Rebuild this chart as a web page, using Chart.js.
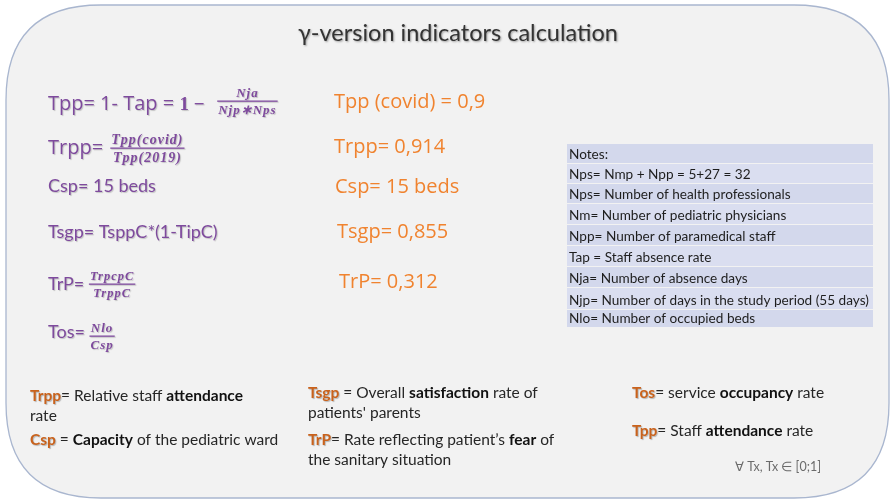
<!DOCTYPE html>
<html>
<head>
<meta charset="utf-8">
<script src="https://cdn.jsdelivr.net/npm/chart.js@4"></script>
<style>
  html, body { margin: 0; padding: 0; background: #ffffff; }
  #wrap { width: 891px; height: 501px; position: relative; }
</style>
</head>
<body>
<div id="wrap"><canvas id="slideChart" width="891" height="501"></canvas></div>
<script>
// indicator results (orange column)
const indicatorNames = ['Tpp (covid)', 'Trpp', 'Csp', 'Tsgp', 'TrP'];
const indicatorValues = [0.9, 0.914, 15, 0.855, 0.312];
const indicatorUnits = ['', '', ' beds', '', ''];

// notes table
const noteLines = [
    'Notes:',
    'Nps= Nmp + Npp = 5+27 = 32',
    'Nps= Number of health professionals',
    'Nm= Number of pediatric physicians',
    'Npp= Number of paramedical staff',
    'Tap = Staff absence rate',
    'Nja= Number of absence days',
    'Njp= Number of days in the study period (55 days)',
    'Nlo= Number of occupied beds'
];

// definitions at the bottom: [abbr, text before bold, bold word, text after, 2nd line]
const definitions = [
    ['Trpp', '= Relative staff ', 'attendance', '', 'rate'],
    ['Csp', ' = ', 'Capacity', ' of the pediatric ward', ''],
    ['Tsgp', ' = Overall ', 'satisfaction', ' rate of', "patients' parents"],
    ['TrP', '= Rate reflecting patient\u2019s ', 'fear', ' of', 'the sanitary situation'],
    ['Tos', '= service ', 'occupancy', ' rate', ''],
    ['Tpp', '= Staff ', 'attendance', ' rate', '']
];

const PURPLE = '#7e4a9d';
const ORANGE = '#f0832f';
const ORANGE_DARK = '#c9621c';
const BODY = 'Lato, "Open Sans", sans-serif';
const GOTHIC = '"Open Sans", sans-serif';
const MATH = '"Liberation Serif", serif';

function fmt(v) {
    return String(v).replace('.', ',');
}

function runs(ctx, x, y, parts) {
    parts.forEach(p => {
        ctx.font = p.font;
        ctx.fillStyle = p.color;
        ctx.fillText(p.t, x, y);
        x += ctx.measureText(p.t).width;
    });
    return x;
}

function frac(ctx, x, yBar, num, den, size, color) {
    ctx.font = 'bold italic ' + size + 'px ' + MATH;
    ctx.letterSpacing = '1px';
    const w = Math.max(ctx.measureText(num).width, ctx.measureText(den).width) + 2;
    ctx.fillStyle = color;
    ctx.textAlign = 'center';
    ctx.fillText(num, x + w / 2, yBar - 4);
    ctx.fillText(den, x + w / 2, yBar + size);
    ctx.textAlign = 'left';
    ctx.letterSpacing = '0px';
    ctx.fillRect(x, yBar - 0.5, w, 1.3);
}

function roundBox(ctx, x, y, w, h, r) {
    ctx.beginPath();
    ctx.moveTo(x + r, y);
    ctx.lineTo(x + w - r, y);
    ctx.quadraticCurveTo(x + w, y, x + w, y + r);
    ctx.lineTo(x + w, y + h - r);
    ctx.quadraticCurveTo(x + w, y + h, x + w - r, y + h);
    ctx.lineTo(x + r, y + h);
    ctx.quadraticCurveTo(x, y + h, x, y + h - r);
    ctx.lineTo(x, y + r);
    ctx.quadraticCurveTo(x, y, x + r, y);
    ctx.closePath();
}

const slidePlugin = {
    id: 'slide',
    beforeDraw(chart) {
        const ctx = chart.ctx;
        ctx.save();
        roundBox(ctx, 6, 5, 883, 493, 95);
        ctx.fillStyle = '#f2f2f2';
        ctx.fill();
        ctx.strokeStyle = '#a9b6cf';
        ctx.lineWidth = 1.3;
        ctx.stroke();
        ctx.restore();
    },
    afterDraw(chart) {
        const ctx = chart.ctx;
        ctx.save();
        ctx.textBaseline = 'alphabetic';

        // title
        ctx.shadowColor = 'rgba(0,0,0,0.35)';
        ctx.shadowBlur = 2;
        ctx.shadowOffsetX = 1;
        ctx.shadowOffsetY = 1;
        ctx.font = '23.5px ' + BODY;
        ctx.fillStyle = '#333333';
        ctx.textAlign = 'center';
        ctx.fillText('\u03b3-version indicators calculation', 458, 41);
        ctx.textAlign = 'left';

        // formulas (purple)
        ctx.shadowColor = 'rgba(0,0,0,0.2)';
        ctx.shadowBlur = 1;
        let x = runs(ctx, 48, 110, [{ t: 'Tpp= 1- Tap = ', font: '20px ' + GOTHIC, color: PURPLE },
                                   { t: '1 \u2212 ', font: 'bold 19px ' + MATH, color: PURPLE }]);
        frac(ctx, x + 8, 101, 'Nja', 'Njp\u2217Nps', 13, PURPLE);
        x = runs(ctx, 48, 154, [{ t: 'Trpp= ', font: '20px ' + GOTHIC, color: PURPLE }]);
        frac(ctx, x + 2, 148, 'Tpp(covid)', 'Tpp(2019)', 14, PURPLE);
        runs(ctx, 48, 192, [{ t: 'Csp= 15 beds', font: '18px ' + BODY, color: PURPLE }]);
        runs(ctx, 48, 238, [{ t: 'Tsgp= TsppC*(1-TipC)', font: '18px ' + BODY, color: PURPLE }]);
        x = runs(ctx, 48, 290, [{ t: 'TrP= ', font: '18px ' + BODY, color: PURPLE }]);
        frac(ctx, x, 284, 'TrpcpC', 'TrppC', 12.5, PURPLE);
        x = runs(ctx, 48, 338, [{ t: 'Tos= ', font: '18px ' + BODY, color: PURPLE }]);
        frac(ctx, x, 336, 'Nlo', 'Csp', 13, PURPLE);

        // results (orange)
        const resY = [108, 153, 193, 238, 288];
        const resX = [334, 334, 335, 337, 339];
        ctx.shadowColor = 'transparent';
        indicatorNames.forEach((n, i) => {
            const sep = i === 0 ? ' = ' : '= ';
            ctx.font = '20px ' + GOTHIC;
            ctx.fillStyle = ORANGE;
            ctx.fillText(n + sep + fmt(indicatorValues[i]) + indicatorUnits[i], resX[i], resY[i]);
        });

        // notes table
        const tx = 567, tw = 306;
        const rowTop = [144, 164, 184, 204, 225, 246, 267, 288, 310, 328];
        noteLines.forEach((t, i) => {
            ctx.fillStyle = i % 2 === 0 ? '#d3d8ec' : '#dadef0';
            ctx.fillRect(tx, rowTop[i], tw, rowTop[i + 1] - rowTop[i] - 1);
            ctx.font = '13.6px ' + BODY;
            ctx.fillStyle = '#1e1e1e';
            ctx.fillText(t, tx + 2, rowTop[i + 1] - 5);
        });

        // definitions
        const F = '15.5px ';
        const defPos = [[30, 401], [30, 445], [308, 398], [308, 445], [632, 398], [632, 436]];
        definitions.forEach((d, i) => {
            const [dx, dy] = defPos[i];
            ctx.shadowColor = 'rgba(0,0,0,0.25)';
            ctx.shadowBlur = 1;
            ctx.shadowOffsetX = 1;
            ctx.shadowOffsetY = 1;
            ctx.font = 'bold ' + F + BODY;
            ctx.fillStyle = ORANGE_DARK;
            ctx.fillText(d[0], dx, dy);
            const cx = dx + ctx.measureText(d[0]).width;
            ctx.shadowColor = 'transparent';
            runs(ctx, cx, dy, [{ t: d[1], font: F + BODY, color: '#262626' },
                               { t: d[2], font: 'bold ' + F + BODY, color: '#111111' },
                               { t: d[3], font: F + BODY, color: '#262626' }]);
            if (d[4]) runs(ctx, dx, dy + 20, [{ t: d[4], font: F + BODY, color: '#262626' }]);
        });

        ctx.font = '12.5px ' + BODY;
        ctx.fillStyle = '#6b6b6b';
        ctx.fillText('\u2200 Tx, Tx \u2208 [0;1]', 735, 471);
        ctx.restore();
    }
};

const slideCtx = document.getElementById('slideChart').getContext('2d');
const slideChart = new Chart(slideCtx, {
    type: 'scatter',
    data: { datasets: [] },
    options: {
        responsive: false,
        animation: false,
        events: [],
        layout: { padding: 0 },
        plugins: { legend: { display: false }, tooltip: { enabled: false } },
        scales: {
            x: { display: false },
            y: { display: false }
        }
    },
    plugins: [slidePlugin]
});
</script>
</body>
</html>
